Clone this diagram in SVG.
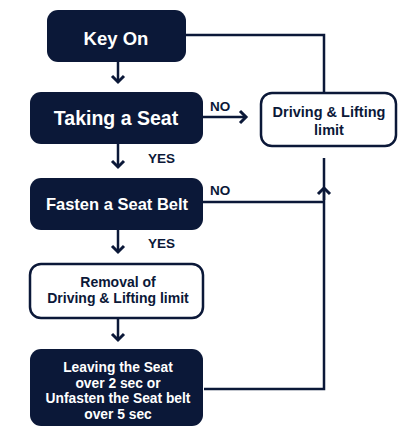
<svg xmlns="http://www.w3.org/2000/svg" width="398" height="428" viewBox="0 0 398 428">
<defs>
<style>
.dark{fill:#0b1838;}
.light{fill:#ffffff;stroke:#0b1838;stroke-width:2.5;}
.tw{fill:#ffffff;font-family:"Liberation Sans",Arial,sans-serif;font-weight:bold;text-anchor:middle;}
.td{fill:#0b1838;font-family:"Liberation Sans",Arial,sans-serif;font-weight:bold;text-anchor:middle;}
.lbl{fill:#0b1838;font-family:"Liberation Sans",Arial,sans-serif;font-weight:bold;font-size:13.5px;}
.ln{fill:none;stroke:#0b1838;stroke-width:2.5;}
.ar{fill:none;stroke:#0b1838;stroke-width:2.5;marker-end:url(#chev);}
</style>
<marker id="chev" viewBox="-9 -9 11 18" refX="0" refY="0" markerWidth="11" markerHeight="18" markerUnits="userSpaceOnUse" orient="auto" overflow="visible">
<path d="M-6,-6 L0,0 L-6,6" fill="none" stroke="#0b1838" stroke-width="3" stroke-linejoin="miter"/>
</marker>
</defs>
<rect width="398" height="428" fill="#ffffff"/>
<g id="connectors">
<path class="ar" d="M118,62 V82"/>
<path class="ar" d="M118,144 V167"/>
<path class="ar" d="M118,230 V252"/>
<path class="ar" d="M118,318 V340"/>
<path class="ar" d="M203,117 H246"/>
<path class="ln" d="M186,35 H324 V93"/>
<path class="ln" d="M203,202 H324"/>
<path class="ln" d="M204,389 H324 V158"/>
<path class="ar" d="M324,200 V188"/>
</g>
<g id="labels">
<text class="lbl" x="210" y="111">NO</text>
<text class="lbl" x="148" y="163">YES</text>
<text class="lbl" x="210" y="195">NO</text>
<text class="lbl" x="148" y="248">YES</text>
</g>
<g id="key-on">
<rect class="dark" x="47" y="10" width="139" height="52" rx="11"/>
<text class="tw" x="116" y="45" font-size="18.5">Key On</text>
</g>
<g id="taking-seat">
<rect class="dark" x="30" y="92" width="173" height="52" rx="11"/>
<text class="tw" x="116" y="125" font-size="19.5">Taking a Seat</text>
</g>
<g id="limit">
<rect class="light" x="261" y="93" width="135" height="53" rx="11"/>
<text class="td" x="329" y="117" font-size="14.5">Driving &amp; Lifting</text>
<text class="td" x="329" y="135" font-size="14.5">limit</text>
</g>
<g id="fasten-belt">
<rect class="dark" x="30" y="178" width="173" height="52" rx="11"/>
<text class="tw" x="117" y="210" font-size="16.5">Fasten a Seat Belt</text>
</g>
<g id="removal">
<rect class="light" x="30" y="264" width="173" height="54" rx="11"/>
<text class="td" x="118" y="287" font-size="14">Removal of</text>
<text class="td" x="118" y="303" font-size="14">Driving &amp; Lifting limit</text>
</g>
<g id="leaving-seat">
<rect class="dark" x="30" y="349" width="173" height="77" rx="11"/>
<text class="tw" x="118" y="372" font-size="13.8">Leaving the Seat</text>
<text class="tw" x="118" y="388" font-size="13.8">over 2 sec or</text>
<text class="tw" x="118" y="403" font-size="13.8">Unfasten the Seat belt</text>
<text class="tw" x="118" y="419" font-size="13.8">over 5 sec</text>
</g>
</svg>
